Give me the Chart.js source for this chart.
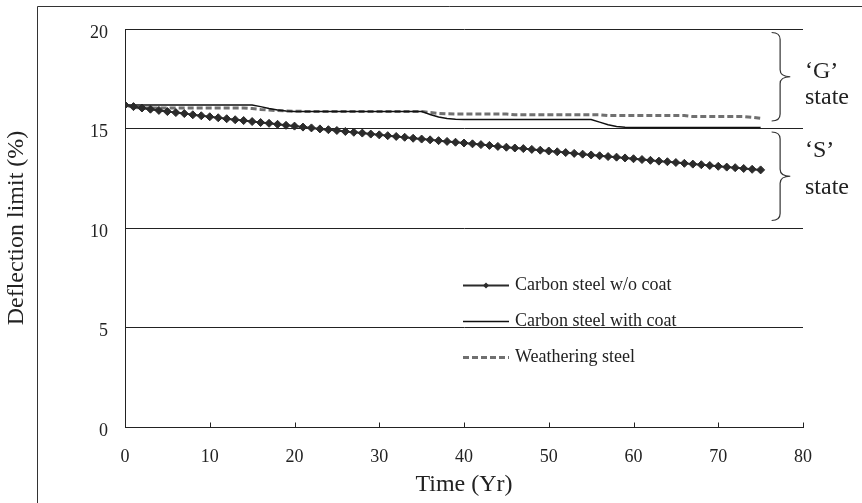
<!DOCTYPE html>
<html><head><meta charset="utf-8">
<script src="https://cdn.jsdelivr.net/npm/chart.js@4.4.1/dist/chart.umd.min.js"></script>
<style>html,body{margin:0;padding:0;background:#fff;}#wrap{width:862px;height:503px;position:relative;}</style>
</head><body><div id="wrap"><canvas id="c" width="862" height="503"></canvas></div>
<script>
// ---- data ----
const years = [0,1,2,3,4,5,6,7,8,9,10,11,12,13,14,15,16,17,18,19,20,21,22,23,24,25,26,27,28,29,30,31,32,33,34,35,36,37,38,39,40,41,42,43,44,45,46,47,48,49,50,51,52,53,54,55,56,57,58,59,60,61,62,63,64,65,66,67,68,69,70,71,72,73,74,75];
const carbonNoCoat = [16.18,16.10,16.03,15.97,15.91,15.85,15.80,15.75,15.69,15.64,15.59,15.54,15.49,15.44,15.40,15.35,15.30,15.26,15.21,15.16,15.12,15.07,15.03,14.98,14.94,14.90,14.85,14.81,14.77,14.72,14.68,14.64,14.60,14.56,14.51,14.47,14.43,14.39,14.35,14.31,14.27,14.23,14.19,14.15,14.10,14.06,14.02,13.99,13.95,13.91,13.87,13.83,13.79,13.75,13.71,13.67,13.63,13.59,13.56,13.52,13.48,13.44,13.40,13.36,13.33,13.29,13.25,13.21,13.18,13.14,13.10,13.06,13.03,12.99,12.95,12.92];
const carbonCoat = [16.18,16.18,16.18,16.18,16.18,16.18,16.18,16.18,16.18,16.18,16.18,16.18,16.18,16.18,16.18,16.18,16.10,16.00,15.93,15.88,15.86,15.86,15.86,15.86,15.86,15.86,15.86,15.86,15.86,15.86,15.86,15.86,15.86,15.86,15.86,15.86,15.70,15.58,15.50,15.46,15.45,15.45,15.45,15.45,15.45,15.45,15.45,15.45,15.45,15.45,15.45,15.45,15.45,15.45,15.45,15.45,15.32,15.19,15.10,15.06,15.05,15.05,15.05,15.05,15.05,15.05,15.05,15.05,15.05,15.05,15.05,15.05,15.05,15.05,15.05,15.05];
const weathering = [16.18,16.06,16.04,16.03,16.03,16.03,16.03,16.03,16.03,16.03,16.03,16.03,16.03,16.03,16.03,16.00,15.96,15.93,15.90,15.88,15.87,15.86,15.86,15.86,15.86,15.86,15.86,15.86,15.86,15.86,15.86,15.86,15.86,15.86,15.86,15.86,15.80,15.76,15.74,15.73,15.73,15.73,15.73,15.73,15.73,15.73,15.69,15.69,15.69,15.69,15.69,15.69,15.69,15.69,15.69,15.69,15.69,15.65,15.65,15.65,15.65,15.65,15.65,15.65,15.65,15.65,15.65,15.60,15.60,15.60,15.60,15.60,15.60,15.60,15.56,15.51];
const seriesNames = ['Carbon steel w/o coat','Carbon steel with coat','Weathering steel'];
const xTickValues = [0,10,20,30,40,50,60,70,80];
const yTickValues = [0,5,10,15,20];
const xTitle = 'Time (Yr)';
const yTitle = 'Deflection limit (%)';
const stateNames = ['‘G’','‘S’'];
const stateWord = 'state';
const stateRanges = [[20,15],[15,10]];

const pts = vals => years.map((t,i)=>({x:t,y:vals[i]}));

const FONT = "'Liberation Serif','Times New Roman',serif";
Chart.defaults.font.family = FONT;
Chart.defaults.color = '#222';

// text anchor positions (in axis units) for the state labels
const stateTextPos = [[17.84, 16.56], [13.89, 12.04]];

const decor = {
  id:'decor',
  beforeDraw(chart){
    const ctx = chart.ctx;
    ctx.save();
    ctx.fillStyle = '#fff';
    ctx.fillRect(0,0,chart.width,chart.height);
    ctx.strokeStyle = '#333';
    ctx.lineWidth = 1;
    ctx.beginPath();
    ctx.moveTo(37.5, chart.height);
    ctx.lineTo(37.5, 6.5);
    ctx.lineTo(chart.width, 6.5);
    ctx.stroke();
    ctx.restore();
  },
  afterDraw(chart){
    const ctx = chart.ctx;
    const xs = chart.scales.x, ys = chart.scales.y;
    ctx.save();
    // inward x ticks
    ctx.strokeStyle = '#222';
    ctx.lineWidth = 1;
    const yb = Math.round(ys.getPixelForValue(0)) + 0.5;
    xs.ticks.forEach(t => {
      const px = Math.round(xs.getPixelForValue(t.value)) + 0.5;
      ctx.beginPath();
      ctx.moveTo(px, yb);
      ctx.lineTo(px, yb - 5);
      ctx.stroke();
    });
    // braces
    const x0 = xs.getPixelForValue(76.3), xm = xs.getPixelForValue(77.3), xt = xs.getPixelForValue(78.5);
    ctx.strokeStyle = '#333';
    ctx.lineWidth = 1.2;
    stateRanges.forEach((r, i) => {
      const yTop = ys.getPixelForValue(r[0]) + 3.5;
      const yBot = ys.getPixelForValue(r[1]) - 7.5;
      const yMid = (yTop + yBot) / 2;
      const rr = 7;
      ctx.beginPath();
      ctx.moveTo(x0, yTop);
      ctx.quadraticCurveTo(xm, yTop, xm, yTop + rr);
      ctx.lineTo(xm, yMid - rr);
      ctx.quadraticCurveTo(xm, yMid, xt, yMid);
      ctx.quadraticCurveTo(xm, yMid, xm, yMid + rr);
      ctx.lineTo(xm, yBot - rr);
      ctx.quadraticCurveTo(xm, yBot, x0, yBot);
      ctx.stroke();
      ctx.fillStyle = '#222';
      ctx.font = '24px ' + FONT;
      ctx.textAlign = 'left';
      ctx.textBaseline = 'middle';
      const tx = xs.right + 2;
      ctx.fillText(stateNames[i], tx, ys.getPixelForValue(stateTextPos[i][0]));
      ctx.fillText(stateWord, tx, ys.getPixelForValue(stateTextPos[i][1]));
    });
    // legend
    const rows = [285, 321, 357];
    const lx0 = 463, lx1 = 509;
    chart.data.datasets.forEach((ds, i) => {
      const y = rows[i] + 0.5;
      ctx.save();
      ctx.strokeStyle = ds.borderColor;
      ctx.lineWidth = ds.borderWidth;
      ctx.setLineDash(ds.borderDash || []);
      ctx.beginPath();
      ctx.moveTo(lx0, y);
      ctx.lineTo(lx1, y);
      ctx.stroke();
      ctx.restore();
      if (ds.pointRadius > 0) {
        ctx.fillStyle = ds.pointBackgroundColor;
        ctx.beginPath();
        const cx = (lx0 + lx1) / 2, r = 3;
        ctx.moveTo(cx - r, y); ctx.lineTo(cx, y - r); ctx.lineTo(cx + r, y); ctx.lineTo(cx, y + r);
        ctx.closePath();
        ctx.fill();
      }
      ctx.fillStyle = '#222';
      ctx.font = '18px ' + FONT;
      ctx.textAlign = 'left';
      ctx.textBaseline = 'middle';
      ctx.fillText(ds.label, 515, rows[i]);
    });
    ctx.restore();
  }
};

new Chart(document.getElementById('c'), {
  type: 'line',
  data: {
    datasets: [
      { label: seriesNames[0], data: pts(carbonNoCoat), borderColor: '#2b2b2b', borderWidth: 2,
        pointStyle: 'rectRot', pointRadius: 4, pointBackgroundColor: '#2b2b2b', pointBorderColor: '#2b2b2b', pointBorderWidth: 1 },
      { label: seriesNames[1], data: pts(carbonCoat), borderColor: '#111', borderWidth: 1.5, pointRadius: 0 },
      { label: seriesNames[2], data: pts(weathering), borderColor: '#707070', borderWidth: 3, borderDash: [6,3], pointRadius: 0 }
    ]
  },
  options: {
    responsive: false,
    animation: false,
    layout: { padding: { left: 0, right: 59, top: 29, bottom: 0 } },
    plugins: { legend: { display: false }, tooltip: { enabled: false } },
    scales: {
      x: {
        type: 'linear', min: 0, max: 80,
        afterBuildTicks: s => { s.ticks = xTickValues.map(v => ({ value: v })); },
        afterFit: s => { s.height = 76; },
        grid: { display: true, drawOnChartArea: false, drawTicks: false },
        border: { display: true, color: '#222', width: 1 },
        ticks: { padding: 19, font: { size: 18 }, color: '#222', maxRotation: 0 },
        title: { display: true, text: xTitle, font: { size: 24 }, color: '#222', padding: { top: 0, bottom: 4 } }
      },
      y: {
        min: 0, max: 20,
        afterBuildTicks: s => { s.ticks = yTickValues.map(v => ({ value: v })); },
        afterFit: s => { s.width = 125; },
        grid: { display: true, drawOnChartArea: true, drawTicks: false, color: '#222', lineWidth: 1 },
        border: { display: true, color: '#222', width: 1 },
        ticks: { padding: 17, labelOffset: 4, font: { size: 18 }, color: '#222' },
        title: { display: true, text: yTitle, font: { size: 24 }, color: '#222', padding: { top: 2, bottom: 0 } }
      }
    }
  },
  plugins: [decor]
});
</script></body></html>
